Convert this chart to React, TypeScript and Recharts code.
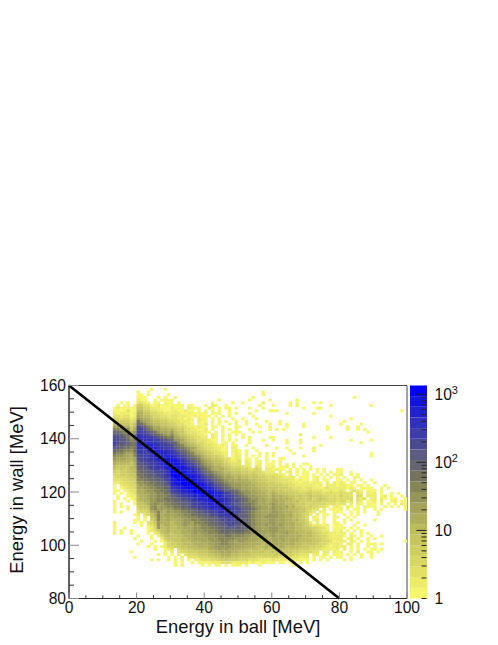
import React from 'react';
import {
  BarChart,
  Bar,
  ScatterChart,
  Scatter,
  XAxis,
  YAxis,
  ReferenceArea
} from 'recharts';

// one string per wall energy bin, from 158 MeV down to 92 MeV
// groups are ball energy 13-19, 20-29, 30-39 ... 90-99 MeV
// each char is a colour band of the palette (1..9, a..k), '.' is an empty bin
const WALL_ROWS = [
  '....... ....1...1.',
  '....... 1..1...... .......... .......... .......1..',
  '....... 11.1.....1 .......... .......... .......1..',
  '....... 111...1.1. .1........ .......... ....1..... .......... .......... ....1.....',
  '....... 211..1.111 1......... ....1..... ...1.....1 .......1..',
  '..1.1.. 3321.11.11 1.1....... ..1.....1. .1.....2.. .....1.1.. ..1.1.....',
  '.1.11.1 5533112111 1111.11... 1.21..1... ......1... 1....1.1.. .......1.. .........1',
  '1211111 6644222111 2111.2111. .21.1.11.1 ...1...1.. .........1 ...11.....',
  '1111311 7755332211 2211211.1. 1.1.1..1.. .....1...1 11........ .......... .......... ........1.',
  '2122212 8866443322 2221121111 1.111..1.1 ...1...... ....1..... ..1.......',
  '3323312 9877544332 3322211211 11.1.1.1.. ....1..... .......... .......1..',
  '4434423 a988655443 3322121.21 1.1.1...1. .1...1.... .......... .......... ...1......',
  '5555534 ca98766554 4332221.21 1.1.1.1..1 ..1.....1. ..1....... .......... .1........',
  '7766646 dcb9877665 5433221.11 2.1.1..1.1 ..1..1...1 ..1.1....1 .......... 1.....1...',
  '9988857 fedba88776 6544322121 1.11.1...1 1.....1..1 ....1....1 ......1... ..1..1....',
  'bba9a68 ffecb99887 8655332211 2.1..1.1.1 ...1.....1 .1.1...... ......1... ..1..1.1..',
  'ddcbb8a ggfedca998 a766433221 21.1.1..11 1...1.1... .......... .......... ........1.',
  'eedcc9b hggfedcba9 b876543322 1.21.1.1.1 .1........ ........2.',
  'ffedcab hhhggfedcb c987654332 2.21.1.1.. .1.1.....1 1......... ..1....1..',
  'ffeedbc hhhhhggfed daa9765433 3211.1.1.1 ...1...1.. 1...1...1. .......... ...1.....1',
  'gfeedcc hhhhhhggfe edb9876544 3221.11.1. ...1...... ....1...1. .......... ......1...',
  'feeddcc hhhiihhggf fdcb987654 3322121.11 ..1.....1. .......... ....1.....',
  'eedccbc hhhiiihhgg gedcba9865 4332211.21 ....1..... .1..1...1. ..2.......',
  'dccbbac ggghiiiihh hfedcb9876 5433211.12 1.1..1.... .....1.... ..1.......',
  'cbba99b gggghiiiih hgfedcb987 6543322.12 1.1...1.1. 1.....1... .......... .........1',
  'baa998b ffgghiiiii ihgfedcba8 7655432.12 2.1.1.1.1. 1........1 .......... .........1',
  'a999889 ffgghhiiij jihgfedcb9 8766543312 2.11.1..1. ..11......',
  '9888879 effgghhiij jjihgfedca 9877654322 3.21.12.1. 1.1.......',
  '8777768 eeffgghiij jjjihgfedb a987765433 3.22.12.11 1.1.1.1..1 1.........',
  '7666678 deefgghhii jjjjihgfec ba98876544 4332.32.11 2.112.1.1. .1........',
  '6565677 ddeefggghi kjjjiihgfd cb98887655 5443343.22 1211.1.1.1 .1.1.1...1 1.........',
  '5455667 cddeeffggh kkjjjiihge dcba987766 6554544322 2.2.12.1.1 1..1.1.1.1 1..1......',
  '4455566 ccddeeffgh kkkjjjiihf edcba98877 7665654433 3322.2.1.1 1.1.1.1.11 2..1.1....',
  '3444556 bccddeefgg jkkkjjjiig fedcba9987 8776665544 4332222.11 1.12.1.1.1 .1..11....',
  '3334455 bbccddeefg jjkkkjjjih gfedcba998 9887766554 4433322121 1.12.11..1 1.1.1.1..1',
  '2233445 aabbccddef ijjkkkkjji hgfedcbaa9 9988776655 5443332212 21221.2.21 21.11..1.. 1.........',
  '1.23344 9aabbccdee iijjkkkkjj ihgfedcbaa a998877665 5554433222 22212.2221 2211.11.1. ...1......',
  '1.12334 99aabbccdd hhijjkkkkj jihgfedcba a998887766 6655543332 3322123222 22121.1111 ..1.1.....',
  '11.1233 889aabbccd gghiijjkkk jjihgfeddc baa9988776 7665554433 3433322322 32.2321.11 1.1.......',
  '1.1.123 8899aabbcc ffghhiijjk kjjiihgfed cbaa998877 8766655544 5544433433 4333.32.21 2.1..1.1..',
  '.1..122 7889aabbbc eefgghhiij jjjiihggfe dcbaa99887 9887766565 5655544343 5343.43.22 2.12.1..1.',
  '.1.1.12 7889aabbcc ddeffgghii ijjiihhgfe edcbaa9988 9887876565 5645654443 4344.323.2 2.21.11..1',
  '1...1.1 7788aabbbc cddeefgghh iijjiihgff edcbba9988 9988776755 5555544443 4423.32.11 2.2..12.11',
  '1.1...1 6678abaabb ccddeefggh hiiiihhgfe edccba9989 a988777656 4454443332 33.2.21.11 1.1.1.1.21',
  '1.1.1.. 5667ab9aab bccddeffgg hhiiiihggf eddcbaa998 a998978665 4544332.22 1.21.1.111 1..1.1.1.1',
  '1...1.. 4556ab9a9a abbccddeff gghhhihhgf feddcba999 a998877766 4433.2.111 2.1.11.1.. 1.1......1',
  '1.1.... 344589b98a 9aabbccdee ffgghhhggf fedcbaa999 aa98887766 432.21..11 1..1.1.1.. .1........',
  '......1 2.3468b899 99aabbccdd eeffgghggf eedcbaa99a aa99897765 42.2.11.1. .1.1.1.... .1........',
  '....... 1.2.67b889 899aabbbcc ddeeffgggf eedcbaa9aa aa99887765 3.21.1..11 ..1.1.....',
  '......1 1.1.57b889 8899aabbbc cddeeffgff eddcbaa99a a999887866 4.12.1..1. .1.1...... 1.........',
  '1.....1 .1.346a888 7889aa9bbb ccddeeffff eedcbaa99a a999888766 52.2.1..11 .1...1....',
  '1...... .1.235a788 7789a99aab bccddeeffe edccbaa9a9 a9a9888776 5322212.11 1...1..1..',
  '1..1... ...124a778 7788999aab bbccddeeee eddcbaa99a aa99888776 6554331.11 11.1.1....',
  '1.1..1. ...1235778 7778899aaa bbbccddddd ddcbbaa99a aa99988777 6654322.11 2.1.1.1...',
  '1.1..1. ...1.23677 6778889a9a abbbccdccc ccbbaa9999 a999a88877 7765433221 22.1..1.1.',
  '....... 1...1.2467 6677889999 aaabbbccbb bbaa999989 a999988887 7765443212 21.21.1..1 ..1.......',
  '......1 ....1..256 6667788999 9aaabbbbba aaa9998898 9999888877 7665543222 2.12.1..1. 1.........',
  '....... .1...1.135 5667778889 99aaabbaa9 aa99988898 9989888877 7766544312 22.21.1.1. .........1',
  '....... 1...1...24 5566777888 899aabbaa9 9998888787 9998888776 6665443222 2.22.1..11 1.1.......',
  '....... ...1.1.124 4556677788 889aaaaa99 9988877787 8888777766 6554432122 22.1.1..1. 1.........',
  '....... .....1..12 3.45566777 7889a9a998 8877776676 7777666655 5443322212 .2.1.1.1.1 1.1.......',
  '.....1. ........1. 2.34455566 6778898988 7776666656 6666665544 4433.22.21 1..1.2..11 .1........',
  '....... ......1.1. 1.2.344455 5667788877 6666555555 5655554433 3.22.21.11 1.1.1.1..1',
  '......1 .........1 .1.2.33344 4556677766 5555544444 4433333322 2.1.11.1.1 1..1..1..1',
  '....... ....1.1..1 .1.1.1.223 3344556555 4443332222 3222222211 1.1.1.1... .1.1......',
  '....... .......... .1.1..1.11 1122233322 2221211211 1.11.11.1. 1.........',
  '....... .......... .1.1.....1 .1.11.1.11 1.1...1... ......1...'
];

const BAND_COLORS = [
  '#F5F56E', '#ECEC6A', '#E2E166', '#D8D766', '#CFCE64',
  '#C6C560', '#BCBB5E', '#AFAE5C', '#A5A45A', '#979658',
  '#868556', '#74745E', '#666670', '#5C5C80', '#4A4A92',
  '#3E3EA6', '#3030B8', '#2222CC', '#1414E0', '#0000FF'
];

const CUT_LINE = [
  { ball: 0, wall: 160 },
  { ball: 80, wall: 80 }
];

const BALL_TICKS = [0, 5, 10, 15, 20, 25, 30, 35, 40, 45, 50, 55, 60, 65, 70, 75, 80, 85, 90, 95, 100];
const WALL_TICKS = [80, 85, 90, 95, 100, 105, 110, 115, 120, 125, 130, 135, 140, 145, 150, 155, 160];
const Z_TICKS = [
  1, 2, 3, 4, 5, 6, 7, 8, 9, 10, 20, 30, 40, 50, 60, 70, 80, 90,
  100, 200, 300, 400, 500, 600, 700, 800, 900, 1000
];
const Z_MAX = 1340;

const hits = WALL_ROWS.flatMap((row, i) =>
  row.replace(/ /g, '').split('').flatMap((c, j) =>
    c === '.' ? [] : [{ ball: 13 + j + 0.5, wall: 158 - i + 0.5, band: parseInt(c, 36) }]
  )
);

// colour bar row: every band takes the same share of the bar
const bandRow: Record<string, number> = { name: 0 };
BAND_COLORS.forEach((_, i) => {
  bandRow[`b${i}`] = 1;
});

const FONT = '"Liberation Sans", Arial, sans-serif';
const CELL_W = 337.5 / 100;
const CELL_H = 213 / 80;

const HitCell = (props: any) => (
  <rect
    x={props.cx - CELL_W / 2 - 0.1}
    y={props.cy - CELL_H / 2 - 0.1}
    width={CELL_W + 0.2}
    height={CELL_H + 0.2}
    fill={BAND_COLORS[props.payload.band - 1]}
  />
);

const NoDot = () => null;

const BallTick = (props: any) => {
  const { x, y, payload } = props;
  const major = payload.value % 20 === 0;
  return (
    <g>
      <line x1={x} x2={x} y1={y} y2={y - (major ? 6 : 3.2)} stroke={major ? '#888' : '#333'} strokeWidth={1} />
      {major && (
        <text x={x} y={y + 14.5} textAnchor="middle" fontSize={15.6} fontFamily={FONT} fill="#111">
          {payload.value}
        </text>
      )}
    </g>
  );
};

const WallTick = (props: any) => {
  const { x, y, payload } = props;
  const major = payload.value % 20 === 0;
  return (
    <g>
      <line x1={x} x2={x + (major ? 10 : 5)} y1={y} y2={y} stroke={major ? '#888' : '#333'} strokeWidth={1} />
      {major && (
        <text x={x - 3} y={y + 5.6} textAnchor="end" fontSize={15.6} fontFamily={FONT} fill="#111">
          {payload.value}
        </text>
      )}
    </g>
  );
};

const ZTick = (props: any) => {
  const { x, y, payload } = props;
  const v = payload.value;
  const major = v === 10 || v === 100 || v === 1000;
  const labelX = x + 8;
  return (
    <g>
      <line x1={x} x2={x - (major ? 10 : 5)} y1={y} y2={y} stroke="#222" strokeWidth={1} />
      {(v === 1 || v === 10) && (
        <text x={labelX} y={y + 5.6} fontSize={15.6} fontFamily={FONT} fill="#111">
          {v}
        </text>
      )}
      {(v === 100 || v === 1000) && (
        <text x={labelX} y={y + 5.6} fontSize={15.6} fontFamily={FONT} fill="#111">
          10
          <tspan dy={-6} fontSize={11}>{v === 100 ? 2 : 3}</tspan>
        </text>
      )}
    </g>
  );
};

export default function App() {
  return (
    <div style={{ position: 'absolute', left: 0, top: 0, width: 498, height: 645, overflow: 'hidden', background: '#fff' }}>
      <div style={{ position: 'absolute', left: 0, top: 0 }}>
        <ScatterChart
          width={498}
          height={645}
          margin={{ top: 385.5, right: 91, bottom: 45.5, left: 68 }}
        >
          <ReferenceArea x1={0} x2={100} y1={80} y2={160} fill="none" stroke="#444" strokeWidth={1} />
          <XAxis
            type="number"
            dataKey="ball"
            domain={[0, 100]}
            ticks={BALL_TICKS}
            interval={0}
            height={1}
            tickSize={0}
            tickMargin={0}
            tickLine={false}
            tick={<BallTick />}
            stroke="#222"
          />
          <YAxis
            type="number"
            dataKey="wall"
            domain={[80, 160]}
            ticks={WALL_TICKS}
            interval={0}
            width={1}
            tickSize={0}
            tickMargin={0}
            tickLine={false}
            tick={<WallTick />}
            stroke="#222"
          />
          <Scatter data={hits} shape={<HitCell />} isAnimationActive={false} />
          <Scatter
            data={CUT_LINE}
            line={{ stroke: '#000', strokeWidth: 2.6 }}
            shape={<NoDot />}
            isAnimationActive={false}
          />
          <text x={238} y={632.5} textAnchor="middle" fontSize={18.4} fontFamily={FONT} fill="#111">
            Energy in ball [MeV]
          </text>
          <text
            x={23}
            y={490}
            textAnchor="middle"
            fontSize={18.4}
            fontFamily={FONT}
            fill="#111"
            transform="rotate(-90 23 490)"
          >
            Energy in wall [MeV]
          </text>
        </ScatterChart>
      </div>
      <div style={{ position: 'absolute', left: 410, top: 0 }}>
        <BarChart
          width={88}
          height={645}
          data={[bandRow]}
          barCategoryGap={0}
          margin={{ top: 385.5, right: 70.5, bottom: 46.5, left: 0 }}
        >
          <XAxis dataKey="name" hide />
          <YAxis yAxisId="bands" domain={[0, 20]} hide />
          <YAxis
            yAxisId="z"
            orientation="right"
            scale="log"
            type="number"
            domain={[1, Z_MAX]}
            ticks={Z_TICKS}
            interval={0}
            width={1}
            tickSize={0}
            tickMargin={0}
            axisLine={false}
            tickLine={false}
            tick={<ZTick />}
            allowDataOverflow
          />
          {BAND_COLORS.map((color, i) => (
            <Bar
              key={color}
              yAxisId="bands"
              dataKey={`b${i}`}
              stackId="bar"
              fill={color}
              isAnimationActive={false}
            />
          ))}
        </BarChart>
      </div>
    </div>
  );
}
